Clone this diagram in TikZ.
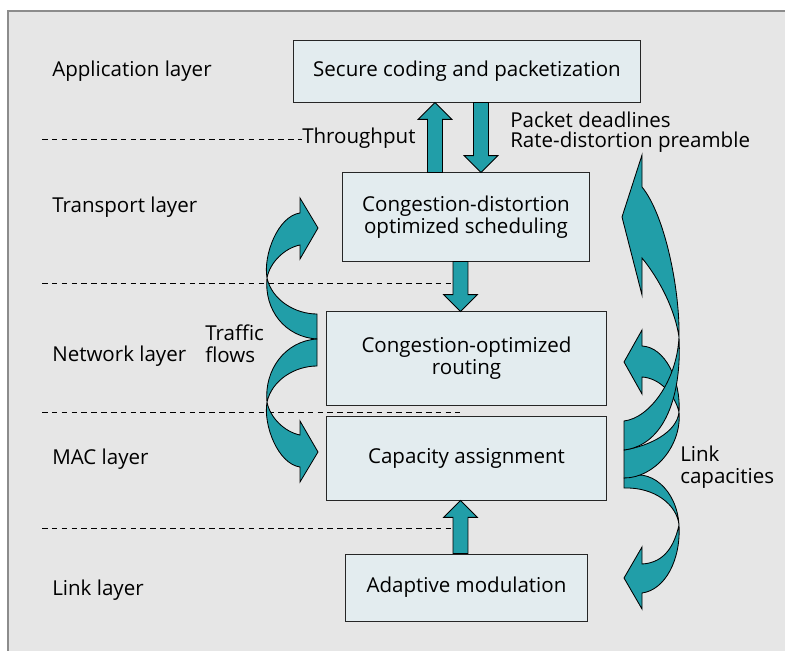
\documentclass[tikz,border=0pt]{standalone}
\usepackage{fontspec}
\setmainfont{Open Sans}
\usetikzlibrary{calc,positioning}
\definecolor{panelgray}{RGB}{230,230,230}
\definecolor{boxfill}{RGB}{227,236,239}
\definecolor{arrowteal}{RGB}{33,158,168}
\tikzstyle{layerbox} = [draw=black!85, fill=boxfill, line width=0.7pt, align=center, inner sep=0pt]
\tikzstyle{ribbon} = [fill=arrowteal, draw=black, line width=0.6pt]
\tikzstyle{sep} = [dash pattern=on 4pt off 3pt, line width=0.6pt]
\tikzstyle{lbl} = [anchor=west, inner sep=0pt, align=left]
\tikzstyle{blockarr} = [fill=arrowteal, draw=black, line width=0.6pt,
  to path={let \p1=(\tikztostart), \p2=(\tikztotarget), \n1={(\y2>\y1)?1:-1} in
    (\x1-5.3pt,\y1) -- (\x1-5.3pt,\y2-\n1*12pt) -- (\x1-12pt,\y2-\n1*12pt) -- (\x2,\y2)
    -- (\x1+12pt,\y2-\n1*12pt) -- (\x1+5.3pt,\y2-\n1*12pt) -- (\x1+5.3pt,\y1) -- cycle}]

\begin{document}
\begin{tikzpicture}[x=0.025cm,y=-0.025cm,every node/.style={font=\fontsize{14.6}{15.6}\selectfont}]
\useasboundingbox (0,0) rectangle (785,651);
\fill[panelgray] (8,11) rectangle (785,651);
\draw[black!45, line width=1pt] (8,651) -- (8,11) -- (785,11);

% boxes
\node[layerbox, minimum width=8.65cm, minimum height=1.55cm] (top) at (467,71) {Secure coding and packetization};
\node[layerbox, minimum width=6.15cm, minimum height=2.2cm] (sched) at (466,217) {Congestion-distortion\\optimized scheduling};
\node[layerbox, minimum width=6.975cm, minimum height=2.325cm] (net) at (466.5,358.5) {Congestion-optimized\\routing};
\node[layerbox, minimum width=6.975cm, minimum height=2.075cm] (cap) at (466.5,458.5) {Capacity assignment};
\node[layerbox, minimum width=6.025cm, minimum height=1.675cm] (adapt) at (466.5,587.5) {Adaptive modulation};

% layer names
\node[lbl] (app) at (52,71) {Application layer};
\node[lbl] (trans) at (52,207) {Transport layer};
\node[lbl] (netw) at (52,356) {Network layer};
\node[lbl] (mac) at (52,459) {MAC layer};
\node[lbl] (link) at (52,590) {Link layer};

\node[lbl] (thr) at (302,138) {Throughput};
\node[lbl, font=\fontsize{14.6}{14.4}\selectfont] (pkt) at (510,132) {Packet deadlines\\Rate-distortion preamble};
\node[lbl] (traffic) at (205,344) {Traffic\\flows};
\node[lbl] (linkcap) at (680,467) {Link\\capacities};

% separators
\draw[sep] (42,139.5) -- (thr.west |- 0,139.5);
\draw[sep] (42,283) -- (453,283);
\draw[sep] (42,412) -- (460,412);
\draw[sep] (42,528) -- (453,528);

% straight arrows
\draw[blockarr] (sched.north -| 435,0) to (top.south -| 435,0);
\draw[blockarr] (top.south -| 481,0) to (sched.north -| 481,0);
\draw[blockarr] (sched.south -| 460.5,0) to (net.north -| 460.5,0);
\draw[blockarr] (adapt.north -| 460.5,0) to (cap.south -| 460.5,0);

% traffic flows
\filldraw[ribbon] (317,314) .. controls (295,314) and (272,300) .. (267,278)
  .. controls (263,255) and (278,216) .. (300,213)
  -- (300,198) -- (318,228) -- (300,259) -- (300,245)
  .. controls (285,248) and (270,262) .. (267,278)
  .. controls (264,310) and (285,337) .. (317,339) -- cycle;
\filldraw[ribbon] (317,366) .. controls (295,366) and (272,380) .. (267,402)
  .. controls (263,425) and (278,464) .. (300,467)
  -- (300,482) -- (318,452) -- (300,421) -- (300,435)
  .. controls (285,432) and (270,418) .. (267,402)
  .. controls (264,370) and (285,341) .. (317,339) -- cycle;

% link capacities
\filldraw[ribbon] (624,478) .. controls (650,466) and (677,490) .. (679,525)
  .. controls (673,552) and (660,563) .. (642,564)
  -- (642,547) -- (624,578) -- (642,609) -- (642,593)
  .. controls (665,590) and (681,560) .. (679,525)
  .. controls (677,505) and (655,487) .. (624,488) -- cycle;
\filldraw[ribbon] (624,450) .. controls (650,446) and (677,432) .. (679,412)
  .. controls (681,380) and (665,347) .. (642,346)
  -- (642,330) -- (624,362) -- (642,394) -- (642,377)
  .. controls (660,378) and (675,395) .. (679,412)
  .. controls (682,445) and (655,478) .. (624,478) -- cycle;
\filldraw[ribbon] (624,421) .. controls (650,418) and (677,380) .. (679,337)
  .. controls (680,290) and (665,215) .. (642,187)
  -- (642,155) -- (622,217) -- (642,295) -- (642,258)
  .. controls (660,280) and (675,310) .. (679,337)
  .. controls (682,395) and (665,445) .. (624,450) -- cycle;
\end{tikzpicture}
\end{document}
